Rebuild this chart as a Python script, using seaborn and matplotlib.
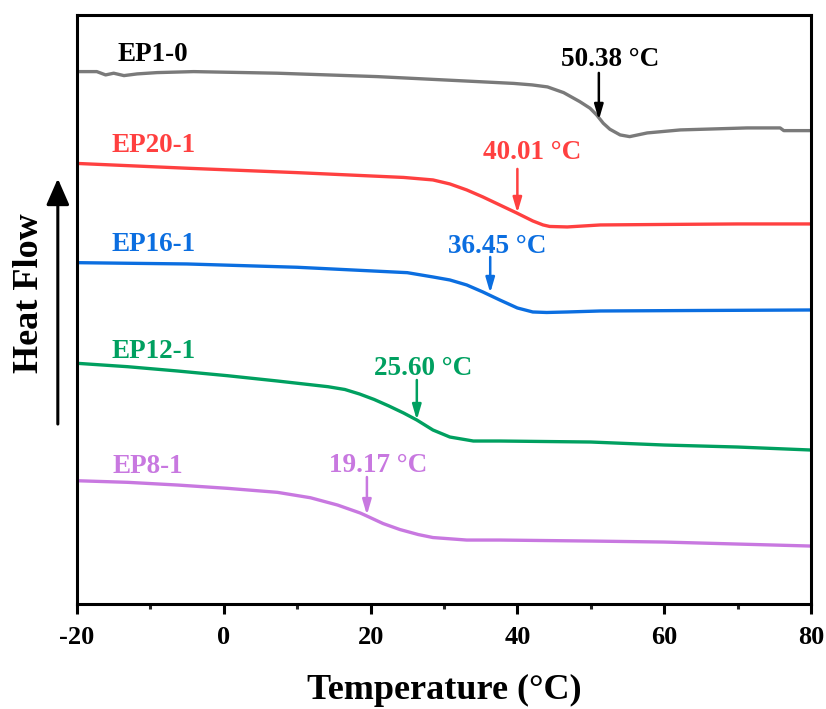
import numpy as np
import pandas as pd
import matplotlib
matplotlib.use("Agg")
import matplotlib.pyplot as plt
import seaborn as sns
from matplotlib.ticker import MultipleLocator

sns.set_theme(style="ticks")
plt.rcParams['font.family'] = ['Liberation Serif', 'DejaVu Serif']
plt.rcParams['font.weight'] = 'bold'
plt.rcParams['axes.unicode_minus'] = False

# ---- data (arbitrary heat-flow units) ----
names = ["EP1-0", "EP20-1", "EP16-1", "EP12-1", "EP8-1"]
colors = ["#7a7a7a", "#ff4040", "#0b6ee0", "#00a060", "#c878e0"]
label_colors = ["#000000", "#ff4040", "#0b6ee0", "#00a060", "#c878e0"]
tg_values = [50.38, 40.01, 36.45, 25.60, 19.17]

x_ep1_0 = [-20, -17.3, -16.1, -15, -13.6, -11.8, -9.1, -4.1, 7.3, 20.9, 34.6, 39.5, 42, 44.1, 46.3, 48.5, 49.9, 50.8, 51.7, 52.6, 54, 55.3, 57.7, 62.2, 71.3, 75.8, 76.3, 80]
y_ep1_0 = [532.3, 532.3, 529, 530.7, 528.3, 530, 531.3, 532.3, 530.7, 527.3, 522.3, 520.5, 519, 517, 511.3, 502.3, 495.7, 489, 480.7, 474.7, 469, 467.3, 471, 474, 476, 476, 473.3, 473.3]

x_ep20_1 = [-20, -5, 10, 24.5, 28.5, 30.8, 33.1, 35.3, 37.6, 39.9, 42.1, 43.5, 44.4, 46.8, 51.3, 60, 70, 80]
y_ep20_1 = [440.5, 435.7, 431.3, 426.5, 424, 420, 414, 407, 399, 391, 383, 379, 377.5, 377, 379, 379.5, 380, 380]

x_ep16_1 = [-20, -5, 10, 25, 28.5, 30.8, 33.1, 35.3, 37.6, 40, 42.1, 44, 46.8, 51.3, 65, 80]
y_ep16_1 = [341.3, 340, 336.7, 331.3, 327, 324, 319, 312, 304, 296, 292, 291.5, 292, 293, 293.5, 294]

x_ep12_1 = [-20, -13.1, -6.3, 0.5, 7.3, 14.2, 16.5, 18.5, 20.5, 22.5, 24.5, 26.3, 28.5, 30.8, 34, 37.6, 50, 60, 70, 80]
y_ep12_1 = [240.7, 237.3, 233, 228.3, 223, 217.3, 214.5, 210, 204.5, 198, 191, 184, 174, 167, 163, 163, 162, 159, 157, 154]

x_ep8_1 = [-20, -13.1, -6.3, 0.5, 7.3, 11.8, 15.5, 18.6, 19.5, 21.7, 24, 26.5, 28.5, 33.1, 37.6, 50, 60, 70, 80]
y_ep8_1 = [123.3, 121.7, 119, 115.7, 111.7, 106.3, 99, 91, 88, 80.5, 74.5, 69.5, 66.5, 64, 64, 63, 62, 60, 58]

# Tg arrows (x position, tail and tip heights) and label anchors
arrow_x = [51.1, 40.0, 36.3, 26.3, 19.5]
arrow_tail = [531, 435, 347, 224, 127]
arrow_tip = [484, 391, 311, 184, 89]
tg_label_x = [52.6, 42.0, 37.2, 27.2, 21.0]
tg_label_y = [544, 451, 357, 235, 139]
name_label_x = [-9.7, -9.5, -9.5, -9.5, -10.3]
name_label_y = [549, 458, 359, 252, 138]

xs = [x_ep1_0, x_ep20_1, x_ep16_1, x_ep12_1, x_ep8_1]
ys = [y_ep1_0, y_ep20_1, y_ep16_1, y_ep12_1, y_ep8_1]

frames = []
for n, x, y in zip(names, xs, ys):
    frames.append(pd.DataFrame({"T": x, "HF": y, "sample": n}))
df = pd.concat(frames, ignore_index=True)

fig = plt.figure(figsize=(8.26, 7.09), dpi=100)
ax = fig.add_axes([0.0932, 0.148, 0.8886, 0.831])

sns.lineplot(data=df, x="T", y="HF", hue="sample", palette=dict(zip(names, colors)),
             hue_order=names, linewidth=2.4, legend=False, ax=ax, sort=False)
for ln in ax.get_lines():
    ln.set_solid_joinstyle("round")
    ln.set_solid_capstyle("butt")

for i, n in enumerate(names):
    c = label_colors[i]
    ax.annotate("", xy=(arrow_x[i], arrow_tip[i]), xytext=(arrow_x[i], arrow_tail[i]),
                arrowprops=dict(arrowstyle="-|>,head_length=0.75,head_width=0.22", color=c, lw=1.8,
                                shrinkA=0, shrinkB=0))
    ax.text(tg_label_x[i], tg_label_y[i], f"{tg_values[i]:.2f} °C", color=c,
            fontsize=19.5, fontweight="bold", ha="center", va="center")
    ax.text(name_label_x[i], name_label_y[i], n, color=c,
            fontsize=19.5, fontweight="bold", ha="center", va="center")

ax.set_xlim(-20, 80)
ax.set_ylim(0, 589)
ax.xaxis.set_major_locator(MultipleLocator(20))
ax.xaxis.set_minor_locator(MultipleLocator(10))
ax.set_yticks([])
ax.tick_params(axis="x", which="major", direction="out", length=7, width=2.2,
               labelsize=19, pad=9, colors="black")
ax.tick_params(axis="x", which="minor", direction="out", length=3.5, width=2.2)
for lab in ax.get_xticklabels():
    lab.set_fontweight("bold")
for s in ax.spines.values():
    s.set_linewidth(2.2)
    s.set_color("black")
    s.set_visible(True)

ax.set_xlabel("Temperature (°C)", fontsize=26, fontweight="bold", labelpad=18, color="black")
ax.set_ylabel("")

fig.text(0.036, 0.587, "Heat Flow", rotation=90, fontsize=26, fontweight="bold",
         ha="center", va="center", color="black")
fig.patches.append(matplotlib.patches.FancyArrowPatch(
    (0.070, 0.398), (0.070, 0.752), transform=fig.transFigure,
    arrowstyle="-|>,head_length=8,head_width=3.5", color="black", lw=2.2,
    mutation_scale=2))

fig.savefig("out.png", dpi=100)
